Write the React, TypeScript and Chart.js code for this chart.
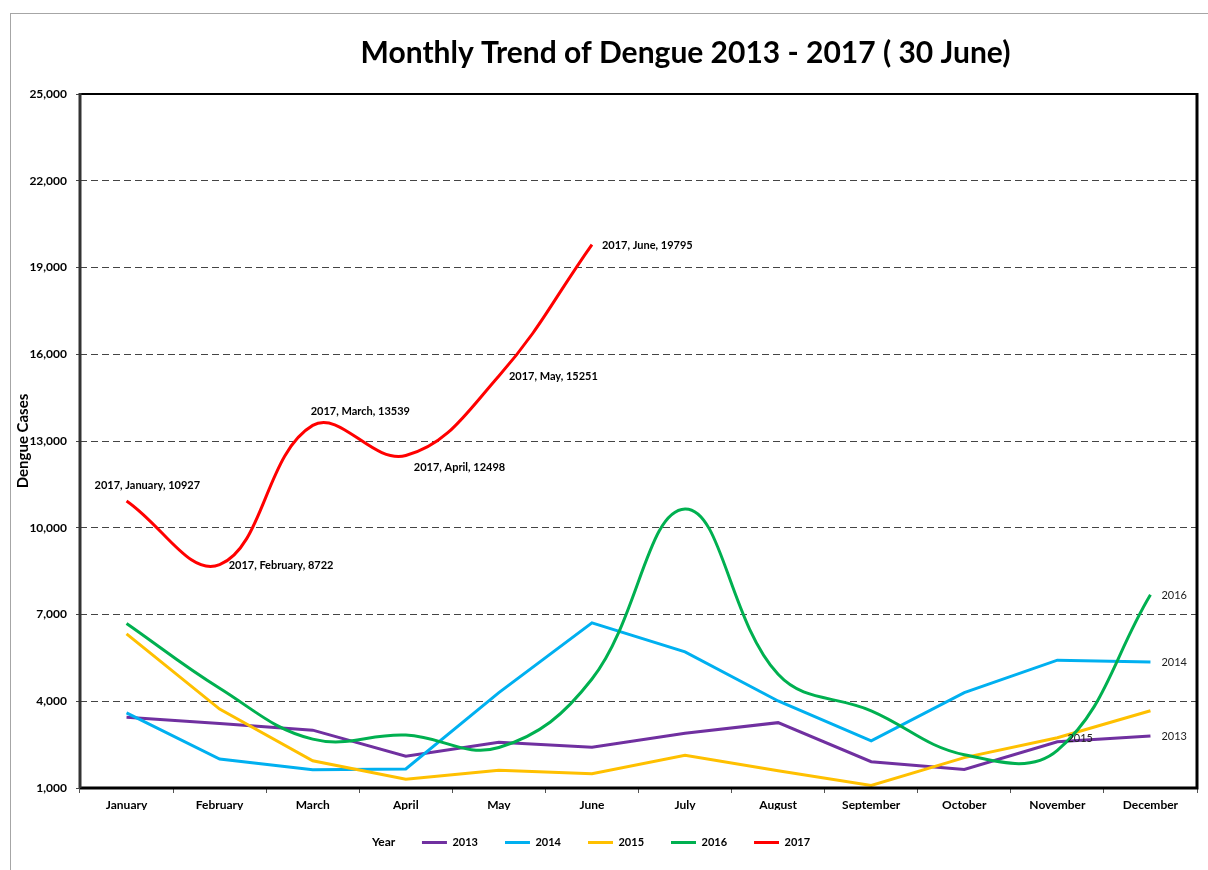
import React, { useEffect, useRef } from "react";
import { Chart, registerables } from "chart.js";

Chart.register(...registerables);

const chartTitle = "Monthly Trend of Dengue 2013 - 2017 ( 30 June)";
const yAxisTitle = "Dengue Cases";
const legendTitle = "Year";

const months = [
  "January", "February", "March", "April", "May", "June",
  "July", "August", "September", "October", "November", "December",
];
const years = ["2013", "2014", "2015", "2016", "2017"];

const cases2013 = [3450, 3230, 3000, 2100, 2580, 2410, 2890, 3260, 1910, 1640, 2600, 2800];
const cases2014 = [3600, 2000, 1630, 1660, 4300, 6710, 5710, 4010, 2630, 4300, 5420, 5360];
const cases2015 = [6330, 3730, 1940, 1300, 1610, 1490, 2130, 1600, 1090, 2050, 2740, 3670];
const cases2016 = [6690, 4450, 2690, 2830, 2400, 4770, 10650, 4930, 3670, 2150, 2300, 7680];
const cases2017 = [10927, 8722, 13539, 12498, 15251, 19795, null, null, null, null, null, null];

const yMin = 1000;
const yMax = 25000;
const yStep = 3000;

const seriesColors = ["#7030A0", "#00B0F0", "#FFC000", "#00B050", "#FF0000"];
const seriesTension = [0, 0, 0, 0.4, 0.4];

// label style offsets (px) for 2017 point labels
const label2017Offsets = [
  [-32, -15], [9, 1], [-2, -14], [8, 12], [10, 1], [10, 1],
];
// end-of-series labels: [datasetIndex, pointIndex, dx, dy]
const endLabels = [
  [3, 11, 11, 1],
  [1, 11, 11, 1],
  [0, 11, 11, 1],
  [2, 10, 10, 1],
];

const FONT = "Lato, 'Open Sans', sans-serif";
const LEGEND_SHIFT = 12;
const LEGEND_PAD = 27;

const decorPlugin = {
  id: "decor",
  afterLayout(chart: any) {
    const lg = chart.legend;
    if (lg) {
      lg.left += LEGEND_SHIFT;
      lg.right += LEGEND_SHIFT;
    }
  },
  afterDatasetsDraw(chart: any) {
    const ctx = chart.ctx;
    const ds2017 = chart.getDatasetMeta(4);
    ctx.save();
    ctx.fillStyle = "#000";
    ctx.textBaseline = "middle";
    ctx.textAlign = "left";
    ctx.font = `bold 11px ${FONT}`;
    cases2017.forEach((v, i) => {
      if (v == null) return;
      const pt = ds2017.data[i];
      const [dx, dy] = label2017Offsets[i];
      ctx.fillText(`${years[4]}, ${months[i]}, ${v}`, pt.x + dx, pt.y + dy);
    });
    ctx.font = `11px ${FONT}`;
    ctx.fillStyle = "#222";
    endLabels.forEach(([di, pi, dx, dy]) => {
      const pt = chart.getDatasetMeta(di).data[pi];
      ctx.fillText(years[di], pt.x + dx, pt.y + dy);
    });
    ctx.restore();
  },
  afterDraw(chart: any) {
    const ctx = chart.ctx;
    const a = chart.chartArea;
    ctx.save();
    // plot border
    ctx.strokeStyle = "#000";
    ctx.lineWidth = 2;
    ctx.beginPath();
    ctx.moveTo(a.left, a.top);
    ctx.lineTo(a.right, a.top);
    ctx.stroke();
    ctx.lineWidth = 3;
    ctx.beginPath();
    ctx.moveTo(a.right, a.top - 1);
    ctx.lineTo(a.right, a.bottom);
    ctx.lineTo(a.left, a.bottom);
    ctx.stroke();
    ctx.strokeStyle = "#333";
    ctx.beginPath();
    ctx.moveTo(a.left, a.top - 1);
    ctx.lineTo(a.left, a.bottom);
    ctx.stroke();
    // title
    ctx.fillStyle = "#000";
    ctx.font = `bold 30px ${FONT}`;
    ctx.textAlign = "center";
    ctx.textBaseline = "middle";
    ctx.fillText(chartTitle, (a.left + a.right) / 2 + 47, a.top - 41);
    // legend title
    const lg = chart.legend;
    if (lg && lg.lineWidths && lg.legendHitBoxes && lg.legendHitBoxes.length) {
      const firstLeft = (lg.left + LEGEND_PAD + lg.right - lg.lineWidths[0]) / 2;
      const hb = lg.legendHitBoxes[0];
      let cy = hb.top + hb.height / 2;
      if (!(cy > lg.top && cy < lg.bottom)) cy = (lg.top + lg.bottom) / 2;
      ctx.font = `bold 12px ${FONT}`;
      ctx.textAlign = "left";
      ctx.fillText(legendTitle, firstLeft - 50, cy);
    }
    ctx.restore();
  },
};

export default function App() {
  const ref = useRef<HTMLCanvasElement | null>(null);
  useEffect(() => {
    if (!ref.current) return;
    const all = [cases2013, cases2014, cases2015, cases2016, cases2017];
    const chart = new Chart(ref.current, {
      type: "line",
      data: {
        labels: months,
        datasets: all.map((d, i) => ({
          label: years[i],
          data: d,
          borderColor: seriesColors[i],
          backgroundColor: seriesColors[i],
          borderWidth: 3,
          pointRadius: 0,
          pointHoverRadius: 0,
          tension: seriesTension[i],
          fill: false,
          order: 5 - i,
        })),
      },
      options: {
        responsive: false,
        animation: false,
        devicePixelRatio: 1,
        layout: { padding: { top: 80, right: 11, bottom: 12, left: 0 } },
        plugins: {
          title: { display: false },
          tooltip: { enabled: false },
          legend: {
            position: "bottom",
            labels: {
              boxWidth: 25,
              boxHeight: 3,
              padding: LEGEND_PAD,
              color: "#000",
              font: { family: FONT, size: 11, weight: "bold" },
              sort: (a: any, b: any) => a.datasetIndex - b.datasetIndex,
              generateLabels: (chart: any) =>
                (Chart.defaults.plugins.legend.labels.generateLabels as any)(chart).map(
                  (it: any) => ({ ...it, lineWidth: 0 })
                ),
            },
          },
        },
        scales: {
          x: {
            offset: true,
            afterFit: (s: any) => { s.height = 22; },
            grid: {
              offset: true,
              drawOnChartArea: false,
              drawTicks: true,
              tickLength: 5,
              tickColor: "#555",
            },
            border: { display: false },
            ticks: {
              color: "#000",
              padding: 5,
              maxRotation: 0,
              autoSkip: false,
              font: { family: FONT, size: 12, weight: "bold" },
            },
          },
          y: {
            min: yMin,
            max: yMax,
            afterFit: (s: any) => { s.width = 69; },
            grid: {
              color: "#444",
              lineWidth: 1,
              tickLength: 4,
              tickColor: "#444",
              tickBorderDash: [],
            },
            border: { display: false, dash: [7, 4] },
            ticks: {
              stepSize: yStep,
              color: "#000",
              padding: 9,
              font: { family: FONT, size: 12, weight: "bold" },
              callback: (v: any) => Number(v).toLocaleString("en-US"),
            },
            title: {
              display: true,
              text: yAxisTitle,
              color: "#000",
              padding: { top: 3, bottom: 0 },
              font: { family: FONT, size: 15, weight: "bold" },
            },
          },
        },
      },
      plugins: [decorPlugin],
    });
    return () => chart.destroy();
  }, []);

  return (
    <div
      style={{
        position: "fixed",
        left: 10,
        top: 13,
        width: 1198,
        height: 857,
        borderLeft: "1px solid #a6a6a6",
        borderTop: "1px solid #a6a6a6",
        background: "#fff",
      }}
    >
      <canvas ref={ref} width={1197} height={856} style={{ display: "block" }} />
    </div>
  );
}
